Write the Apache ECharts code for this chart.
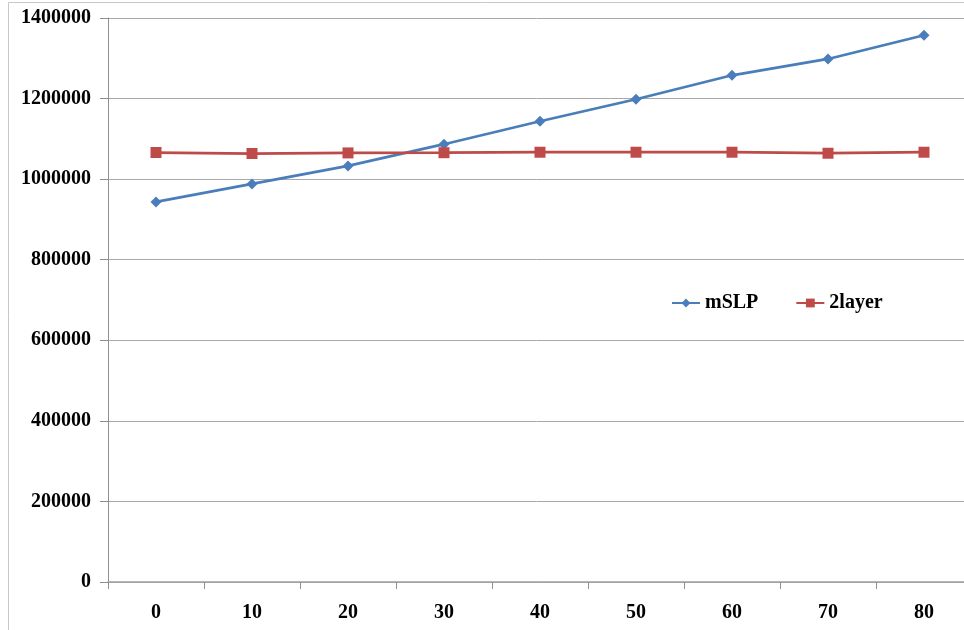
<!DOCTYPE html>
<html>
<head>
<meta charset="utf-8">
<script src="https://cdn.jsdelivr.net/npm/echarts@6/dist/echarts.min.js"></script>
<style>
  html, body { margin: 0; padding: 0; background: #fff; }
  #chart { width: 964px; height: 630px; }
</style>
</head>
<body>
<div id="chart"></div>
<script>
// Category labels along the bottom axis
const categories = ['0', '10', '20', '30', '40', '50', '60', '70', '80'];
// Series values
const mSLP = [943500, 988200, 1032800, 1086700, 1143700, 1198300, 1257800, 1298300, 1357100];
const twoLayer = [1066100, 1063600, 1065100, 1065600, 1066800, 1066800, 1066800, 1064300, 1066800];
// Value axis range
const yMin = 0, yMax = 1400000, yStep = 200000;

const font = 'Liberation Serif, Times New Roman, serif';
const chart = echarts.init(document.getElementById('chart'), null, { renderer: 'canvas' });

chart.setOption({
  backgroundColor: '#ffffff',
  animation: false,
  graphic: [
    { type: 'line', shape: { x1: 8.5, y1: 2.5, x2: 964, y2: 2.5 }, style: { stroke: '#c8c8c8', lineWidth: 1 } },
    { type: 'line', shape: { x1: 8.5, y1: 2.5, x2: 8.5, y2: 630 }, style: { stroke: '#c8c8c8', lineWidth: 1 } }
  ],
  // plot area runs slightly past the right edge of the canvas
  grid: { left: 108, top: 18, width: 864, height: 564, containLabel: false, outerBoundsMode: 'none' },
  legend: {
    left: 666, top: 288,
    itemWidth: 28, itemHeight: 11, itemGap: 37,
    textStyle: { fontFamily: font, fontWeight: 'bold', fontSize: 20, color: '#000' },
    data: ['mSLP', '2layer']
  },
  xAxis: {
    type: 'category',
    data: categories,
    boundaryGap: true,
    axisLine: { lineStyle: { color: '#a0a0a0', width: 1.5 } },
    axisTick: { show: true, length: 7, lineStyle: { color: '#909090' } },
    axisLabel: { fontFamily: font, fontWeight: 'bold', fontSize: 20, color: '#000', margin: 21 }
  },
  yAxis: {
    type: 'value',
    min: yMin, max: yMax, interval: yStep,
    axisLine: { show: true, lineStyle: { color: '#909090' } },
    axisTick: { show: true, length: 8, lineStyle: { color: '#909090' } },
    splitLine: { lineStyle: { color: '#a8a8a8', width: 1 } },
    axisLabel: {
      fontFamily: font, fontWeight: 'bold', fontSize: 20, color: '#000', margin: 17,
      formatter: v => String(v)
    }
  },
  series: [
    {
      name: 'mSLP', type: 'line', data: mSLP,
      symbol: 'diamond', symbolSize: 11,
      lineStyle: { color: '#4a7ebb', width: 2.75 },
      itemStyle: { color: '#4a7ebb' }
    },
    {
      name: '2layer', type: 'line', data: twoLayer,
      symbol: 'rect', symbolSize: 11,
      lineStyle: { color: '#be4b48', width: 2.75 },
      itemStyle: { color: '#be4b48' }
    }
  ]
});
</script>
</body>
</html>
